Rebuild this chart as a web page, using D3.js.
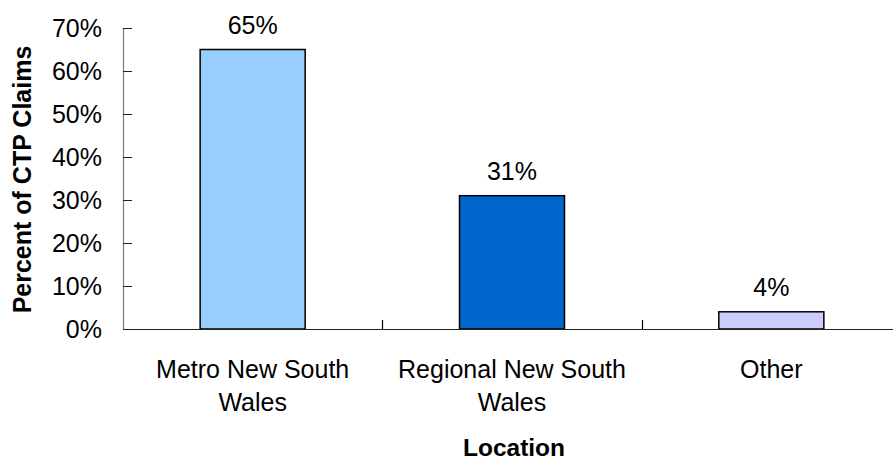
<!DOCTYPE html>
<html>
<head>
<meta charset="utf-8">
<script src="https://cdn.jsdelivr.net/npm/d3@7"></script>
<style>
  html, body { margin: 0; padding: 0; background: #fff; }
  svg { display: block; font-family: "Liberation Sans", Arial, sans-serif; }
</style>
</head>
<body>
<svg id="chart" width="893" height="462"></svg>
<script>
// Share of CTP claims by location
const categories = ["Metro New South Wales", "Regional New South Wales", "Other"];
const categoryLines = [["Metro New South", "Wales"], ["Regional New South", "Wales"], ["Other"]];
const shares = [0.65, 0.31, 0.04];
const barColors = ["#99CCFF", "#0066CC", "#CCCCFF"];
const yTicks = [0, 0.1, 0.2, 0.3, 0.4, 0.5, 0.6, 0.7];
const yTitle = "Percent of CTP Claims";
const xTitle = "Location";

const svg = d3.select("#chart");
const plot = { left: 123, right: 901, top: 28, bottom: 329 };

const x = d3.scaleBand()
  .domain(categories)
  .range([plot.left, plot.right])
  .paddingInner(0.595)
  .paddingOuter(0.2975);

const y = d3.scaleLinear()
  .domain([0, 0.7])
  .range([plot.bottom, plot.top]);

const pct = d3.format(".0%");

// y axis: line, inward ticks, labels
const yAxis = svg.append("g");
yAxis.append("line")
  .attr("x1", plot.left + 0.5).attr("x2", plot.left + 0.5)
  .attr("y1", y(0.7)).attr("y2", y(0))
  .attr("stroke", "#808080").attr("stroke-width", 1.3);
yAxis.selectAll("line.tick").data(yTicks).join("line")
  .attr("class", "tick")
  .attr("x1", plot.left).attr("x2", plot.left + 9)
  .attr("y1", d => Math.round(y(d)) + 0.5).attr("y2", d => Math.round(y(d)) + 0.5)
  .attr("stroke", "#222").attr("stroke-width", 1);
yAxis.selectAll("text").data(yTicks).join("text")
  .attr("x", plot.left - 21)
  .attr("y", d => y(d))
  .attr("dy", "0.36em")
  .attr("text-anchor", "end")
  .attr("font-size", 25)
  .attr("fill", "#000")
  .text(d => pct(d));

// bars
svg.append("g").selectAll("rect").data(shares).join("rect")
  .attr("x", (d, i) => x(categories[i]))
  .attr("y", d => y(d))
  .attr("width", x.bandwidth())
  .attr("height", d => y(0) - y(d))
  .attr("fill", (d, i) => barColors[i])
  .attr("stroke", "#000")
  .attr("stroke-width", 1.5);

// value labels
svg.append("g").selectAll("text").data(shares).join("text")
  .attr("x", (d, i) => x(categories[i]) + x.bandwidth() / 2)
  .attr("y", d => y(d) - 16)
  .attr("text-anchor", "middle")
  .attr("font-size", 25)
  .attr("fill", "#000")
  .text(d => pct(d));

// x axis: baseline, category separators, labels
const xAxis = svg.append("g");
xAxis.append("line")
  .attr("x1", plot.left).attr("x2", plot.right)
  .attr("y1", plot.bottom + 0.5).attr("y2", plot.bottom + 0.5)
  .attr("stroke", "#222").attr("stroke-width", 1.2);
const step = x.step();
xAxis.selectAll("line.tick").data(categories.slice(1).concat(["end"])).join("line")
  .attr("class", "tick")
  .attr("x1", (d, i) => Math.round(plot.left + (i + 1) * step) + 0.5)
  .attr("x2", (d, i) => Math.round(plot.left + (i + 1) * step) + 0.5)
  .attr("y1", plot.bottom).attr("y2", plot.bottom - 9)
  .attr("stroke", "#000").attr("stroke-width", 1.2);

const catLabels = xAxis.selectAll("text.cat").data(categories).join("text")
  .attr("class", "cat")
  .attr("text-anchor", "middle")
  .attr("font-size", 25)
  .attr("fill", "#000");
catLabels.each(function (d, i) {
  d3.select(this).selectAll("tspan").data(categoryLines[i]).join("tspan")
    .attr("x", x(d) + x.bandwidth() / 2)
    .attr("y", (t, j) => 378 + j * 33)
    .text(t => t);
});

// axis titles
svg.append("text")
  .attr("x", (plot.left + plot.right) / 2 + 2)
  .attr("y", 456)
  .attr("text-anchor", "middle")
  .attr("font-size", 24.5)
  .attr("font-weight", "bold")
  .attr("fill", "#000")
  .text(xTitle);

svg.append("text")
  .attr("transform", `translate(30.5, ${(plot.top + plot.bottom) / 2 + 1}) rotate(-90)`)
  .attr("text-anchor", "middle")
  .attr("font-size", 25)
  .attr("font-weight", "bold")
  .attr("fill", "#000")
  .text(yTitle);
</script>
</body>
</html>
